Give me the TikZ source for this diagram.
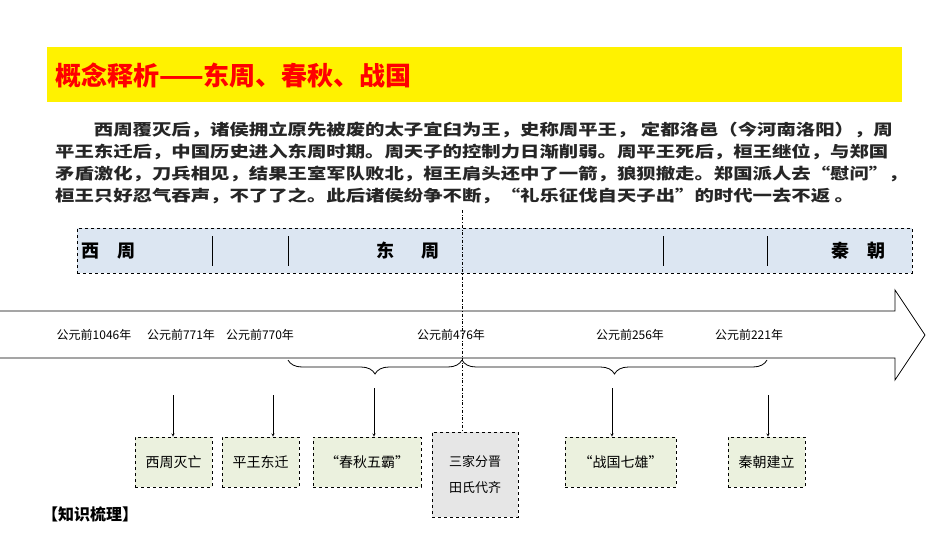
\documentclass[tikz,border=0pt]{standalone}
\usepackage{fontspec}
\usepackage{graphicx}
\setmainfont{Noto Sans CJK SC}
\usetikzlibrary{decorations.pathreplacing}
\definecolor{ban}{HTML}{FFF200}
\definecolor{band}{HTML}{DCE6F2}
\definecolor{gbox}{HTML}{EBF1DE}
\definecolor{graybox}{HTML}{E6E6E6}
\tikzset{
 ev/.style={draw=black,dashed,thick,fill=gbox,minimum height=50pt,inner sep=2pt,font=\fontsize{14}{16}\selectfont},
 dt/.style={font=\fontsize{12}{12}\selectfont,inner sep=0},
 era/.style={font=\fontsize{18}{20}\selectfont\bfseries,inner sep=0},
 dv/.style={thick},
 pt/.style={-stealth}
}
\begin{document}
\begin{tikzpicture}[x=1pt,y=-1pt]
\useasboundingbox (0,0) rectangle (950,535);
\fill[white] (0,0) rectangle (950,535);
\node[fill=ban,minimum width=855pt,minimum height=55pt,anchor=north west] (banner) at (47,47) {};
\node[anchor=west,text=red,font=\fontsize{26}{28}\selectfont\bfseries,inner sep=0] (title) at (55,75) {概念释析——东周、春秋、战国};
\node[anchor=north west,font=\fontsize{15.5}{22}\selectfont\bfseries,text=black!85,inner sep=0] (para) at (55,120)
{\scalebox{1.25}[1]{\begin{tabular}{@{}l@{}}
\hspace*{2em}西周覆灭后，诸侯拥立原先被废的太子宜臼为王，史称周平王， 定都洛邑（今河南洛阳），周\\
平王东迁后，中国历史进入东周时期。周天子的控制力日渐削弱。周平王死后，桓王继位，与郑国\\
矛盾激化，刀兵相见，结果王室军队败北，桓王肩头还中了一箭，狼狈撤走。郑国派人去“慰问”，\\
桓王只好忍气吞声，不了了之。此后诸侯纷争不断，“礼乐征伐自天子出”的时代一去不返 。
\end{tabular}}};
% band
\node[draw,dashed,thick,fill=band,minimum width=835pt,minimum height=45pt,anchor=north west] (band) at (77,228) {};
\node[era] (xz) at (108,251) {西\hspace{1em}周};
\node[era] (dz) at (408,251) {东\hspace{1.5em}周};
\node[era] (qc) at (858,251) {秦\hspace{1em}朝};
\foreach \x in {212,288,663,767} \draw[dv] (\x,236) -- (\x,266);
% arrow
\draw[thick,fill=white] (0,311) -- (895,311) -- (895,290) -- (925,335) -- (895,380) -- (895,358) -- (0,358);
\draw[dash dot,thick] (462,210) -- (462,432);
\node[dt] (d1) at (94,335) {公元前1046年};
\node[dt] (d2) at (181,335) {公元前771年};
\node[dt] (d3) at (260,335) {公元前770年};
\node[dt] (d4) at (451,335) {公元前476年};
\node[dt] (d5) at (630,335) {公元前256年};
\node[dt] (d6) at (749,335) {公元前221年};
\draw[thick,decorate,decoration={brace,mirror,amplitude=14pt}] (288,360) -- (462,360);
\draw[thick,decorate,decoration={brace,mirror,amplitude=14pt}] (462,360) -- (767,360);
% boxes
\node[ev,minimum width=77pt] (b1) at (173.5,462) {西周灭亡};
\node[ev,minimum width=77pt] (b2) at (260.5,462) {平王东迁};
\node[ev,minimum width=108pt] (b3) at (367,462) {“春秋五霸”};
\node[ev,fill=graybox,minimum width=86pt,minimum height=85pt,align=center,font=\fontsize{13}{26}\selectfont] (b4) at (475,474.5) {三家分晋\\田氏代齐};
\node[ev,minimum width=111pt] (b5) at (620.5,462) {“战国七雄”};
\node[ev,minimum width=77pt] (b6) at (766.5,462) {秦朝建立};
\coordinate (s1) at (173,395); \coordinate (s2) at (273,395);
\coordinate (s3) at (374,388); \coordinate (s5) at (612,388);
\coordinate (s6) at (768,395);
\draw[pt] (s1) -- (s1 |- b1.north);
\draw[pt] (s2) -- (s2 |- b2.north);
\draw[pt] (s3) -- (s3 |- b3.north);
\draw[pt] (s5) -- (s5 |- b5.north);
\draw[pt] (s6) -- (s6 |- b6.north);
\node[anchor=west,font=\fontsize{16}{18}\selectfont\bfseries,inner sep=0] (kz) at (42,514) {【知识梳理】};
\end{tikzpicture}
\end{document}
